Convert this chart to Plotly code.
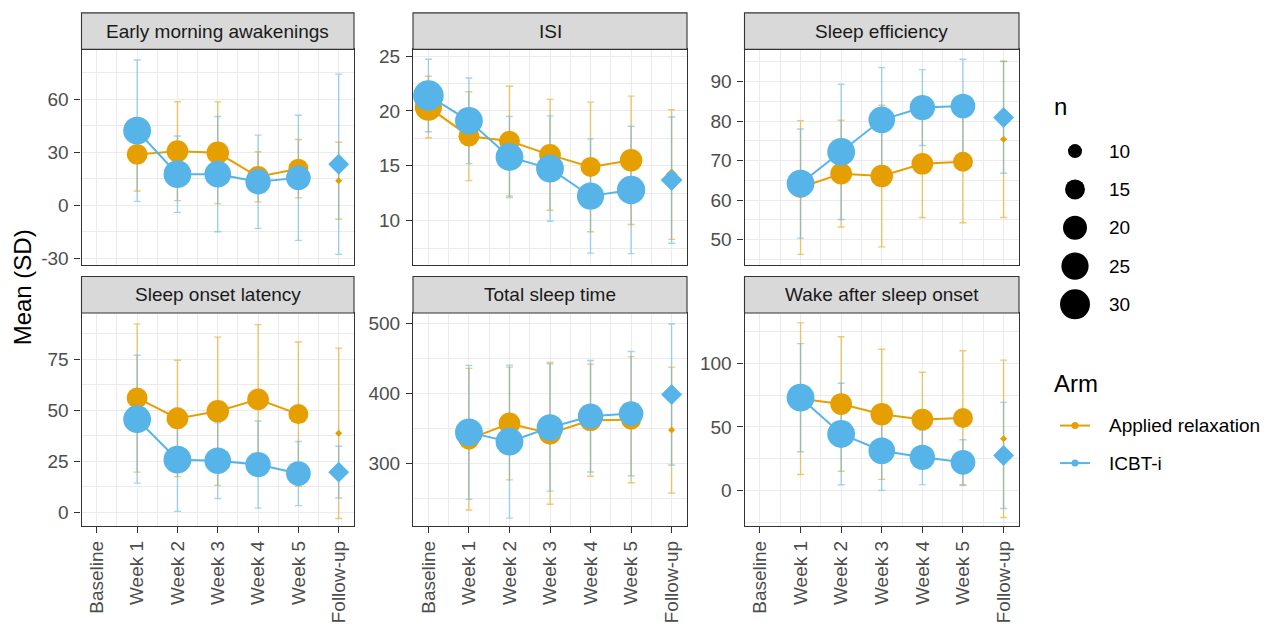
import math
import plotly.graph_objects as go

W, H = 1272, 628

TIMES = ["Baseline", "Week 1", "Week 2", "Week 3", "Week 4", "Week 5", "Follow-up"]
PANELS = ["Early morning awakenings", "ISI", "Sleep efficiency",
          "Sleep onset latency", "Total sleep time", "Wake after sleep onset"]
ARMS = ["Applied relaxation", "ICBT-i"]
ARM_COLORS = ["#E69F00", "#56B4E9"]
ARM_BAR_COLORS = ["rgba(230,159,0,0.55)", "rgba(86,180,233,0.55)"]

# ---- data: mean and SD per time point (Baseline .. Follow-up) ----
EMA_AR_MEAN = [None, 28.9, 30.7, 29.8, 16.2, 20.8, 14.0]
EMA_AR_SD = [None, 20.7, 28.0, 28.8, 14.2, 16.5, 21.8]
EMA_CB_MEAN = [None, 42.3, 17.7, 17.7, 13.4, 15.6, 23.3]
EMA_CB_SD = [None, 40.0, 21.6, 32.6, 26.4, 35.4, 51.0]

ISI_AR_MEAN = [20.35, 17.7, 17.25, 16.0, 14.9, 15.5, 14.2]
ISI_AR_SD = [2.8, 4.05, 5.0, 5.05, 5.9, 5.85, 5.9]
ISI_CB_MEAN = [21.4, 19.1, 15.8, 14.75, 12.25, 12.8, 13.7]
ISI_CB_SD = [3.3, 3.9, 3.7, 4.8, 5.2, 5.8, 5.75]

SE_AR_MEAN = [None, 63.2, 66.7, 66.1, 69.2, 69.7, 75.4]
SE_AR_SD = [None, 16.9, 13.5, 17.9, 13.6, 15.4, 19.8]
SE_CB_MEAN = [None, 64.2, 72.2, 80.3, 83.4, 83.8, 80.9]
SE_CB_SD = [None, 13.8, 17.1, 13.2, 9.6, 11.8, 14.1]

SOL_AR_MEAN = [None, 56.0, 46.0, 49.5, 55.3, 48.1, 38.7]
SOL_AR_SD = [None, 36.3, 28.5, 36.3, 36.6, 35.3, 41.7]
SOL_CB_MEAN = [None, 45.6, 25.8, 25.3, 23.4, 19.0, 19.7]
SOL_CB_SD = [None, 31.3, 25.3, 18.5, 21.3, 15.7, 12.7]

TST_AR_MEAN = [None, 334.3, 356.7, 342.6, 361.4, 362.1, 347.3]
TST_AR_SD = [None, 101.0, 80.5, 101.2, 80.0, 90.1, 89.9]
TST_CB_MEAN = [None, 344.0, 330.8, 351.0, 367.0, 370.8, 398.1]
TST_CB_SD = [None, 95.6, 109.2, 90.8, 79.6, 88.7, 100.7]

WASO_AR_MEAN = [None, 72.2, 68.0, 59.9, 55.8, 57.0, 40.6]
WASO_AR_SD = [None, 59.7, 53.0, 51.3, 37.2, 53.0, 62.0]
WASO_CB_MEAN = [None, 73.0, 44.4, 31.2, 26.0, 22.1, 27.5]
WASO_CB_SD = [None, 42.6, 40.0, 31.2, 21.5, 17.8, 41.8]

# number of respondents (marker size)
N_DIARY_AR = [None, 16, 17, 18, 17, 15, 8]
N_DIARY_CB = [None, 26, 26, 24, 22, 21, 16]
N_ISI_AR = [25, 16, 16, 17, 15, 18, 9]
N_ISI_CB = [31, 26, 26, 26, 25, 27, 17]

# y-axis ticks per panel
Y_TICKS = [[-30, 0, 30, 60], [10, 15, 20, 25], [50, 60, 70, 80, 90],
           [0, 25, 50, 75], [300, 400, 500], [0, 50, 100]]
Y_RANGES = [(-33.5, 88.3), (6.0, 25.6), (43.7, 98.1),
            (-6.8, 97.6), (210.0, 514.4), (-28.3, 139.7)]

SIZE_BREAKS = [10, 15, 20, 25, 30]

PANEL_DATA = [
    ((EMA_AR_MEAN, EMA_AR_SD, N_DIARY_AR), (EMA_CB_MEAN, EMA_CB_SD, N_DIARY_CB)),
    ((ISI_AR_MEAN, ISI_AR_SD, N_ISI_AR), (ISI_CB_MEAN, ISI_CB_SD, N_ISI_CB)),
    ((SE_AR_MEAN, SE_AR_SD, N_DIARY_AR), (SE_CB_MEAN, SE_CB_SD, N_DIARY_CB)),
    ((SOL_AR_MEAN, SOL_AR_SD, N_DIARY_AR), (SOL_CB_MEAN, SOL_CB_SD, N_DIARY_CB)),
    ((TST_AR_MEAN, TST_AR_SD, N_DIARY_AR), (TST_CB_MEAN, TST_CB_SD, N_DIARY_CB)),
    ((WASO_AR_MEAN, WASO_AR_SD, N_DIARY_AR), (WASO_CB_MEAN, WASO_CB_SD, N_DIARY_CB)),
]

# ---- layout geometry (pixels) ----
COL_PX = [(81.5, 354.0), (413.0, 687.0), (744.5, 1019.0)]
ROW_PX = [(46.0, 264.0), (313.0, 529.0)]
STRIP_PX = [(9.0, 46.0), (276.0, 313.0)]

FONT = "Liberation Sans, Arial, sans-serif"
TICK_SIZE = 19
TITLE_SIZE = 24


def fx(p):
    return p / W


def fy(p):
    return 1 - p / H


all_n = [v for arr in (N_DIARY_AR, N_DIARY_CB, N_ISI_AR, N_ISI_CB) for v in arr if v is not None]
N_LO, N_HI = min(all_n), max(all_n)
D_LO, D_SPAN = 7.1, 23.4


def diam(n):
    return D_LO + D_SPAN * math.sqrt((n - N_LO) / (N_HI - N_LO))


X_IDX = list(range(len(TIMES)))
FU = len(TIMES) - 1

fig = go.Figure()
layout = dict(
    width=W, height=H, autosize=False,
    margin=dict(l=0, r=0, t=0, b=0),
    paper_bgcolor="white", plot_bgcolor="white",
    showlegend=False,
    font=dict(family=FONT, size=TICK_SIZE, color="#4D4D4D"),
)
shapes = []
annotations = []

for i, (title, arms) in enumerate(zip(PANELS, PANEL_DATA)):
    r, c = divmod(i, 3)
    sfx = "" if i == 0 else str(i + 1)
    xref, yref = "x" + sfx, "y" + sfx

    # errorbars
    for a, (mean, sd, n) in enumerate(arms):
        fig.add_trace(go.Scatter(
            x=X_IDX, y=mean, mode="markers", xaxis=xref, yaxis=yref,
            marker=dict(size=1, opacity=0),
            error_y=dict(type="data", array=[s if s is not None else 0 for s in sd],
                         visible=True, color=ARM_BAR_COLORS[a], thickness=1.4, width=3.5),
            hoverinfo="skip"))
    # connecting lines (exclude follow-up)
    for a, (mean, sd, n) in enumerate(arms):
        fig.add_trace(go.Scatter(
            x=X_IDX[:FU], y=mean[:FU], mode="lines", xaxis=xref, yaxis=yref,
            line=dict(color=ARM_COLORS[a], width=2), connectgaps=False,
            hoverinfo="skip"))
    # points
    for a, (mean, sd, n) in enumerate(arms):
        sizes, symbols = [], []
        for k, v in enumerate(n):
            if v is None:
                sizes.append(0)
                symbols.append("circle")
            elif k == FU:
                sizes.append(diam(v) / 1.3)
                symbols.append("diamond")
            else:
                sizes.append(diam(v))
                symbols.append("circle")
        fig.add_trace(go.Scatter(
            x=X_IDX, y=mean, mode="markers", xaxis=xref, yaxis=yref,
            marker=dict(size=sizes, symbol=symbols, color=ARM_COLORS[a],
                        opacity=1, line=dict(width=0)),
            name=ARMS[a], hoverinfo="skip"))

    x0, x1 = COL_PX[c]
    y0, y1 = ROW_PX[r]
    xa = dict(
        domain=[fx(x0), fx(x1)], range=[-0.38, 6.38], anchor=yref,
        showline=True, mirror=True, linecolor="#333333", linewidth=1.1,
        showgrid=True, gridcolor="#EBEBEB", gridwidth=1.2, zeroline=False,
        tickmode="array", tickvals=X_IDX, ticktext=TIMES,
        minor=dict(tickmode="linear", tick0=0, dtick=0.5, showgrid=True,
                   gridcolor="#EBEBEB", gridwidth=0.6, ticks=""),
    )
    if r == 1:
        xa.update(ticks="outside", ticklen=6, tickwidth=1.1, tickcolor="#333333",
                  tickangle=-90, showticklabels=True,
                  tickfont=dict(family=FONT, size=TICK_SIZE, color="#4D4D4D"))
    else:
        xa.update(ticks="", showticklabels=False)
    ticks = Y_TICKS[i]
    step = ticks[1] - ticks[0]
    ya = dict(
        domain=[fy(y1), fy(y0)], range=list(Y_RANGES[i]), anchor=xref,
        showline=True, mirror=True, linecolor="#333333", linewidth=1.1,
        showgrid=True, gridcolor="#EBEBEB", gridwidth=1.2, zeroline=False,
        tickmode="array", tickvals=ticks, ticktext=[str(t) for t in ticks],
        ticks="outside", ticklen=6, tickwidth=1.1, tickcolor="#333333",
        ticklabelstandoff=2,
        tickfont=dict(family=FONT, size=TICK_SIZE, color="#4D4D4D"),
        minor=dict(tickmode="linear", tick0=0, dtick=step / 2, showgrid=True,
                   gridcolor="#EBEBEB", gridwidth=0.6, ticks=""),
    )
    layout["xaxis" + sfx] = xa
    layout["yaxis" + sfx] = ya

    # strip
    s0, s1 = STRIP_PX[r]
    shapes.append(dict(type="rect", xref="paper", yref="paper",
                       x0=fx(x0), x1=fx(x1), y0=fy(s1), y1=fy(s0),
                       fillcolor="#D9D9D9", line=dict(color="#333333", width=1.1), layer="above"))
    annotations.append(dict(text=title, xref="paper", yref="paper",
                            x=fx((x0 + x1) / 2), y=fy((s0 + s1) / 2),
                            xanchor="center", yanchor="middle", showarrow=False,
                            font=dict(family=FONT, size=TICK_SIZE, color="#1A1A1A")))

# y-axis title
annotations.append(dict(text="Mean (SD)", xref="paper", yref="paper",
                        x=fx(22), y=fy(287), textangle=-90, xanchor="center", yanchor="middle",
                        showarrow=False, font=dict(family=FONT, size=TITLE_SIZE, color="black")))

# ---- legend drawn on a hidden pixel-scaled axis ----
LX0, LX1, LY0, LY1 = 1030, 1272, 60, 520
layout["xaxis7"] = dict(domain=[fx(LX0), fx(LX1)], range=[LX0, LX1], visible=False,
                        anchor="y7", fixedrange=True)
layout["yaxis7"] = dict(domain=[fy(LY1), fy(LY0)], range=[LY1, LY0], visible=False,
                        anchor="x7", fixedrange=True)

KEY_X, LABEL_X = 1075, 1107
size_y = [149 + 38.8 * k for k in range(len(SIZE_BREAKS))]
fig.add_trace(go.Scatter(
    x=[KEY_X] * len(SIZE_BREAKS), y=size_y, mode="markers", xaxis="x7", yaxis="y7",
    marker=dict(size=[diam(b) for b in SIZE_BREAKS], color="black", opacity=1, line=dict(width=0)),
    cliponaxis=False, hoverinfo="skip"))
for b, yy in zip(SIZE_BREAKS, size_y):
    annotations.append(dict(text=str(b), xref="x7", yref="y7", x=LABEL_X, y=yy,
                            xanchor="left", yanchor="middle", showarrow=False,
                            font=dict(family=FONT, size=TICK_SIZE, color="black")))
annotations.append(dict(text="n", xref="x7", yref="y7", x=1052, y=104,
                        xanchor="left", yanchor="middle", showarrow=False,
                        font=dict(family=FONT, size=TITLE_SIZE, color="black")))
annotations.append(dict(text="Arm", xref="x7", yref="y7", x=1052, y=384,
                        xanchor="left", yanchor="middle", showarrow=False,
                        font=dict(family=FONT, size=TITLE_SIZE, color="black")))
arm_y = [427, 465]
for a, yy in enumerate(arm_y):
    fig.add_trace(go.Scatter(
        x=[1060, 1090], y=[yy, yy], mode="lines", xaxis="x7", yaxis="y7",
        line=dict(color=ARM_COLORS[a], width=2), cliponaxis=False, hoverinfo="skip"))
    fig.add_trace(go.Scatter(
        x=[KEY_X], y=[yy], mode="markers", xaxis="x7", yaxis="y7",
        marker=dict(size=7, color=ARM_COLORS[a], opacity=1), cliponaxis=False, hoverinfo="skip"))
    annotations.append(dict(text=ARMS[a], xref="x7", yref="y7", x=LABEL_X, y=yy,
                            xanchor="left", yanchor="middle", showarrow=False,
                            font=dict(family=FONT, size=TICK_SIZE, color="black")))

layout["shapes"] = shapes
layout["annotations"] = annotations
fig.update_layout(**layout)
fig.write_html("out.html", config={"displayModeBar": False},
               post_script="document.body.style.margin='0';document.body.style.padding='0';")
